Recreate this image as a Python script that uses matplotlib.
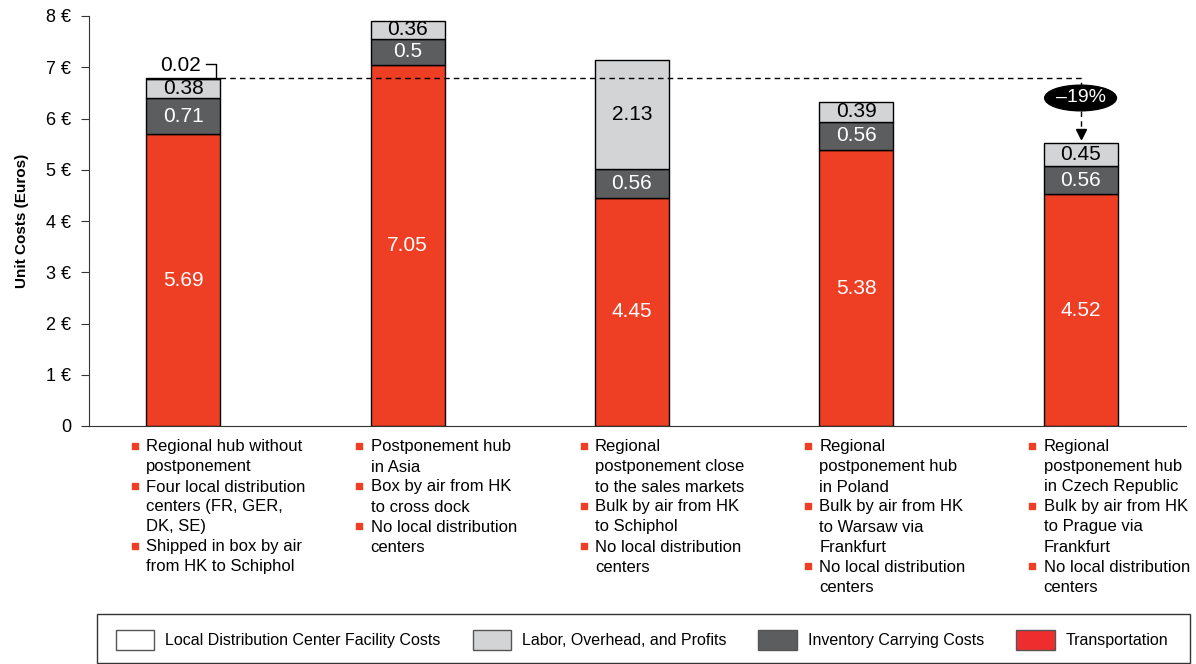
import numpy as np
import matplotlib.pyplot as plt
import matplotlib.transforms as mtransforms
from matplotlib.patches import Ellipse, Rectangle, Patch

plt.rcParams['font.family'] = ['Liberation Sans', 'DejaVu Sans']

# data
transport = [5.69, 7.05, 4.45, 5.38, 4.52]
inventory = [0.71, 0.50, 0.56, 0.56, 0.56]
labor = [0.38, 0.36, 2.13, 0.39, 0.45]
facility = [0.02, 0.0, 0.0, 0.0, 0.0]

yticks = [0, 1, 2, 3, 4, 5, 6, 7, 8]
ytick_labels = ['0', '1 €', '2 €', '3 €', '4 €', '5 €', '6 €', '7 €', '8 €']

series_names = ['Local Distribution Center Facility Costs', 'Labor, Overhead, and Profits',
                'Inventory Carrying Costs', 'Transportation']

bullets = [
    [["Regional hub without", "postponement"],
     ["Four local distribution", "centers (FR, GER,", "DK, SE)"],
     ["Shipped in box by air", "from HK to Schiphol"]],
    [["Postponement hub", "in Asia"],
     ["Box by air from HK", "to cross dock"],
     ["No local distribution", "centers"]],
    [["Regional", "postponement close", "to the sales markets"],
     ["Bulk by air from HK", "to Schiphol"],
     ["No local distribution", "centers"]],
    [["Regional", "postponement hub", "in Poland"],
     ["Bulk by air from HK", "to Warsaw via", "Frankfurt"],
     ["No local distribution", "centers"]],
    [["Regional", "postponement hub", "in Czech Republic"],
     ["Bulk by air from HK", "to Prague via", "Frankfurt"],
     ["No local distribution", "centers"]],
]

red = '#EE3E24'
dark = '#5B5D5F'
light = '#D3D4D6'

fig = plt.figure(figsize=(11.96, 6.64), dpi=100)
ax = fig.add_axes([89 / 1196, 238 / 664, 1097 / 1196, 410 / 664])

x = np.arange(len(transport))
w = 0.33
tr = np.array(transport)
inv = np.array(inventory)
lab = np.array(labor)
fac = np.array(facility)

ax.bar(x, tr, w, color=red, edgecolor='black', linewidth=1)
ax.bar(x, inv, w, bottom=tr, color=dark, edgecolor='black', linewidth=1)
ax.bar(x, lab, w, bottom=tr + inv, color=light, edgecolor='black', linewidth=1)
has_fac = fac > 0
ax.bar(x[has_fac], fac[has_fac], w, bottom=(tr + inv + lab)[has_fac], color='white',
       edgecolor='black', linewidth=1)

# segment labels
for i in x:
    ax.text(i, tr[i] / 2, f'{tr[i]:g}', ha='center', va='center', color='white', fontsize=15)
    ax.text(i, tr[i] + inv[i] / 2, f'{inv[i]:g}', ha='center', va='center', color='white', fontsize=15)
    ax.text(i, tr[i] + inv[i] + lab[i] / 2, f'{lab[i]:g}', ha='center', va='center',
            color='black', fontsize=15)

totals = tr + inv + lab + fac

# small facility label with a bracket
for i in x[has_fac]:
    ly = totals[i] + 0.24
    ax.text(i - 0.01, ly, f'{fac[i]:g}', ha='center', va='center', fontsize=15)
    ax.plot([i + 0.1, i + 0.147, i + 0.147], [ly + 0.03, ly + 0.03, totals[i]],
            color='black', lw=1)

# dashed comparison line and -19% callout
base = totals[0]
last = len(x) - 1
ell_y = base - 0.4
ell_h = 0.5
ax.plot([x[0] + w / 2, x[last], x[last]], [base, base, ell_y + ell_h / 2],
        color='black', lw=1, ls=(0, (4, 3)))
ax.plot([x[last], x[last]], [ell_y - ell_h / 2, totals[last] + 0.2],
        color='black', lw=1, ls=(0, (4, 3)))
ax.plot([x[last]], [totals[last] + 0.16], marker='v', color='black', markersize=7)
ax.add_patch(Ellipse((x[last], ell_y), 0.32, ell_h, color='black', zorder=5))
pct = round((1 - totals[last] / base) * 100)
ax.text(x[last], ell_y, f'–{pct}%', ha='center', va='center', color='white', fontsize=14, zorder=6)

ax.set_xlim(-0.42, 4.47)
ax.set_ylim(0, 8)
ax.set_yticks(yticks)
ax.set_yticklabels(ytick_labels, fontsize=13)
ax.set_xticks([])
ax.spines['top'].set_visible(False)
ax.spines['right'].set_visible(False)
ax.spines['left'].set_color('#333333')
ax.spines['bottom'].set_color('#333333')
ax.tick_params(axis='y', direction='out', length=6, color='#333333', pad=7)
ax.set_ylabel('Unit Costs (Euros)', fontsize=11, fontweight='bold', labelpad=12)

# bullet descriptions under each bar
trans = mtransforms.blended_transform_factory(ax.transData, fig.transFigure)
line_h = 20 / 664
for i, items in enumerate(bullets):
    tx = x[i] - w / 2
    py = 447
    for item in items:
        fy = 1 - py / 664
        ax.plot([tx - 0.05], [fy + 0.002], marker='s', markersize=4, color=red,
                transform=trans, clip_on=False)
        for j, line in enumerate(item):
            ax.text(tx, fy - j * line_h, line, ha='left', va='center', fontsize=12,
                    transform=trans)
        py += 20 * len(item)

# legend in a box at the bottom
fig.add_artist(Rectangle((97 / 1196, 1 / 664), 1093 / 1196, 49 / 664,
                         transform=fig.transFigure, facecolor='none', edgecolor='#333333',
                         lw=1))
handles = [Patch(facecolor='white', edgecolor='#555555'),
           Patch(facecolor=light, edgecolor='#555555'),
           Patch(facecolor=dark, edgecolor='#555555'),
           Patch(facecolor='#EE2E2E', edgecolor='#555555')]
fig.legend(handles, series_names, loc='center', bbox_to_anchor=(642 / 1196, 1 - 640 / 664),
           ncol=4, frameon=False, handlelength=2.4, handleheight=1.5,
           columnspacing=2.0, handletextpad=0.7,
           prop={'family': ['Liberation Sans'], 'size': 11.5})

fig.savefig('out.png', dpi=100)
